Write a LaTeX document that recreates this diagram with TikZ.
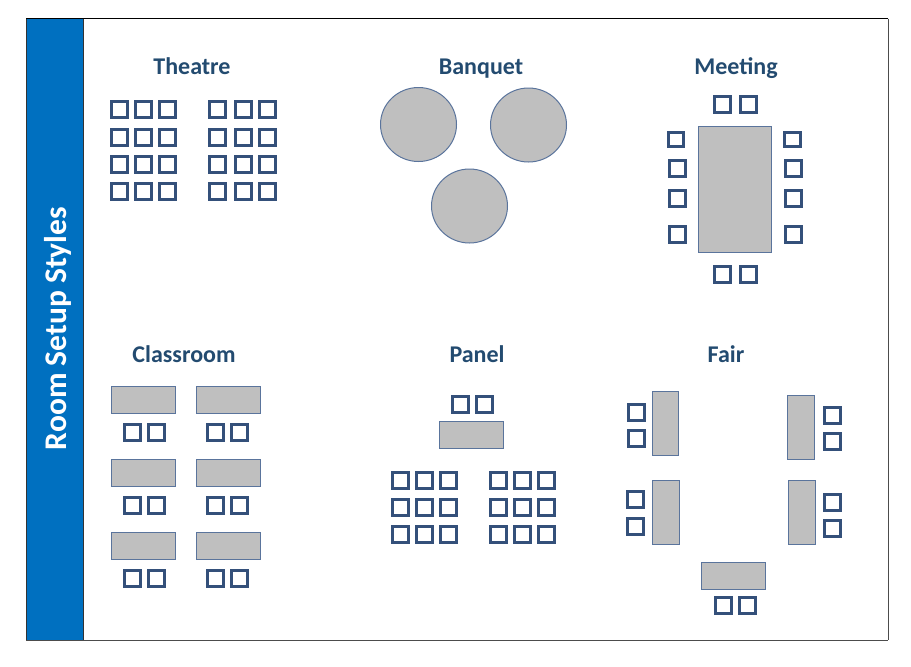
\documentclass[tikz,border=0pt]{standalone}
\usepackage{fontspec}
\setmainfont{Carlito}
\definecolor{chairc}{HTML}{34507A}
\definecolor{bandc}{HTML}{0070C0}
\definecolor{tablec}{HTML}{BFBFBF}
\definecolor{tableb}{HTML}{5A749C}
\definecolor{titlec}{HTML}{234B70}
\tikzset{
  chairbox/.style={draw=chairc,line width=3pt,fill=white},
  tablebox/.style={draw=tableb,line width=1pt,fill=tablec},
  titletext/.style={text=titlec,font=\fontsize{24}{28}\selectfont\bfseries,inner sep=0pt,anchor=base},
}
\newcommand{\chair}[2]{\draw[chairbox] (#1-8,#2-8) rectangle (#1+8,#2+8);}
\newcommand{\chairsz}[4]{\draw[chairbox] (#1-#3,#2-#4) rectangle (#1+#3,#2+#4);}
\newcommand{\tbl}[4]{\draw[tablebox] (#1,#2) rectangle (#3,#4);}
\begin{document}
\begin{tikzpicture}[x=1pt,y=-1pt]
\useasboundingbox (0,0) rectangle (911,667);
\fill[white] (0,0) rectangle (911,667);
% frame
\draw[black,line width=1pt] (26,18.5) -- (888,18.5);
\draw[black!70,line width=1pt] (888,18.5) -- (888,640);
\draw[black!70,line width=1pt] (26,640) -- (888,640);
\fill[bandc] (26,18.5) rectangle (83,640);
\draw[black!80,line width=1pt] (26,18.5) -- (26,640);
\draw[black!80,line width=1pt] (83.5,18.5) -- (83.5,640);
\node[rotate=90,anchor=base,text=white,inner sep=0pt,font=\fontsize{31.5}{38}\selectfont\bfseries] (band) at (66,328.5) {Room Setup Styles};
% titles
\node[titletext] (theatre) at (192,74.5) {Theatre};
\node[titletext] (banquet) at (481,74.5) {Banquet};
\node[titletext] (meeting) at (736,74.5) {Meeting};
\node[titletext] (classroom) at (184,362.5) {Classroom};
\node[titletext] (panel) at (477,362.5) {Panel};
\node[titletext] (fair) at (726,362.5) {Fair};
% theatre
\foreach \y in {109.5,137,164,191}{
  \foreach \x in {119.5,143.5,167.5,217.5,243.5,267.5}{\chair{\x}{\y}}
}
% banquet
\draw[tablebox] (418.5,124.5) ellipse [x radius=38,y radius=37];
\draw[tablebox] (528.5,125) ellipse [x radius=38,y radius=37];
\draw[tablebox] (469.5,206) ellipse [x radius=38,y radius=37];
% meeting
\tbl{698}{126}{771.5}{252}
\foreach \x in {722.5,748.5}{\chair{\x}{104.5}\chair{\x}{274.5}}
\chairsz{676}{139.5}{7.5}{7}
\chairsz{792.5}{139.5}{8}{7}
\foreach \y in {168.5,198.5,234.5}{\chair{677.5}{\y}\chair{793.5}{\y}}
% classroom
\foreach \t/\c in {386/432,459/505,532/578}{
  \tbl{111}{\t}{175}{\t+27}
  \tbl{196}{\t}{260}{\t+27}
  \foreach \x in {132,156,215,239}{\chair{\x}{\c}}
}
% panel
\foreach \x in {460,484}{\chair{\x}{404}}
\tbl{439}{421}{503}{448}
\foreach \y in {480,507,534}{
  \foreach \x in {400,424,448,498,522,546}{\chair{\x}{\y}}
}
% fair
\tbl{652}{391}{678}{455}
\tbl{787}{395}{814}{459}
\tbl{652}{480}{679}{544}
\tbl{788}{480}{815}{544}
\tbl{701}{562}{765}{589}
\chair{636}{412}\chair{636}{438}
\chair{832.5}{415}\chair{832.5}{441}
\chair{635}{499}\chair{635}{526}
\chair{832}{502}\chair{832}{528}
\chair{723}{605}\chair{747}{605}
\end{tikzpicture}
\end{document}
